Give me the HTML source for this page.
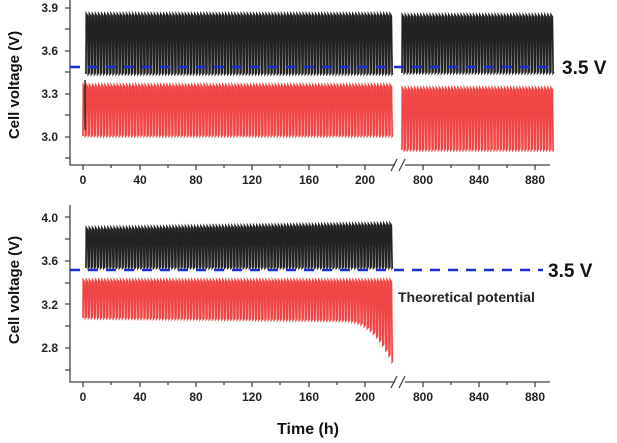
<!DOCTYPE html><html><head><style>body{margin:0;background:#fff}svg{display:block;font-family:"Liberation Sans",Arial,sans-serif}</style></head><body>
<svg id="s" width="617" height="443" viewBox="0 0 617 443">
<g stroke="#444" stroke-width="1.3" fill="none">
<path d="M70 0V165H395M405 165H550"/>
<path d="M70 205V382H395M405 382H550"/>
<path d="M391 171L397 159M399 171L405 159M391 388L397 376M399 388L405 376"/>
</g>
<g id="ticks" stroke="#444" stroke-width="1.3"></g>
<g font-weight="bold" font-size="12" fill="#222" text-anchor="end">
<text x="58" y="12">3.9</text><text x="58" y="55">3.6</text><text x="58" y="98">3.3</text><text x="58" y="141">3.0</text>
<text x="58" y="222">4.0</text><text x="58" y="265">3.6</text><text x="58" y="309">3.2</text><text x="58" y="352">2.8</text>
</g>
<g font-weight="bold" font-size="12" fill="#222" text-anchor="middle" id="xl"></g>
<text x="308" y="434" font-weight="bold" font-size="16" text-anchor="middle" fill="#111">Time (h)</text>
<text transform="translate(19,85) rotate(-90)" font-weight="bold" font-size="15" text-anchor="middle" fill="#111">Cell voltage (V)</text>
<text transform="translate(19,290) rotate(-90)" font-weight="bold" font-size="15" text-anchor="middle" fill="#111">Cell voltage (V)</text>
<g id="data"></g>
<path d="M70 67H548" stroke="#1a2fd0" stroke-width="2.5" stroke-dasharray="10 8"/>
<path d="M70 270H543" stroke="#1a2fd0" stroke-width="2.5" stroke-dasharray="10 8"/>
<text x="562" y="74" font-size="19" font-weight="bold" fill="#111">3.5 V</text>
<text x="548" y="277" font-size="19" font-weight="bold" fill="#111">3.5 V</text>
<text x="398" y="302" font-size="14" font-weight="bold" fill="#222">Theoretical potential</text>
</svg>
<script>
var NS="http://www.w3.org/2000/svg",d=document.getElementById('data'),tk=document.getElementById('ticks'),xl=document.getElementById('xl');
function p(a,c,w){var e=document.createElementNS(NS,'path');e.setAttribute('d',a);e.setAttribute('stroke',c);e.setAttribute('stroke-width',w||1.2);e.setAttribute('fill','none');d.appendChild(e);}
var xs=[[83,'0'],[140,'40'],[196,'80'],[252,'120'],[309,'160'],[365,'200'],[423,'800'],[479,'840'],[535,'880']];
var t='';
[165,382].forEach(function(by){xs.forEach(function(x){t+='M'+x[0]+' '+by+'v5';});[111,168,224,280,337,451,507].forEach(function(x){t+='M'+x+' '+by+'v3';});});
[8,51,94,137,29,72,115,158].forEach(function(y){t+='M70 '+y+'h-5';});
[217,261,304,348,239,283,326,370].forEach(function(y){t+='M70 '+y+'h-5';});
var pe=document.createElementNS(NS,'path');pe.setAttribute('d',t);tk.appendChild(pe);
xs.forEach(function(x){[184,401].forEach(function(y){var e=document.createElementNS(NS,'text');e.setAttribute('x',x[0]);e.setAttribute('y',y);e.textContent=x[1];xl.appendChild(e);});});
function saw(x0,x1,per,hi,lo){var s='M'+x0+' '+lo(x0);for(var x=x0;x<x1;x+=per){s+='L'+(x+0.3)+' '+hi(x)+'L'+(x+per*0.5)+' '+(hi(x)+2)+'L'+(x+per*0.75)+' '+lo(x)+'L'+(x+per)+' '+(lo(x)-1);}return s;}
var P=3.1;
p(saw(86,392,P,function(){return 14},function(){return 74}),'#222',1.7);
p(saw(402,553,P,function(){return 15},function(){return 73}),'#222',1.7);
p(saw(83,392,P,function(){return 85},function(){return 136}),'#f04545',1.7);
p(saw(402,553,P,function(){return 88},function(){return 150}),'#f04545',1.7);
p('M85 80V130','#222',1.4);
p(saw(86,392,P,function(x){return 228-(x-86)*0.015},function(){return 268}),'#222',1.7);
p(saw(83,392,P,function(){return 280},function(x){var b=318+(x-83)*0.01;if(x>340)b+=Math.pow((x-340)/52,2.5)*45;return b;}),'#f04545',1.7);
</script>
</body></html>
